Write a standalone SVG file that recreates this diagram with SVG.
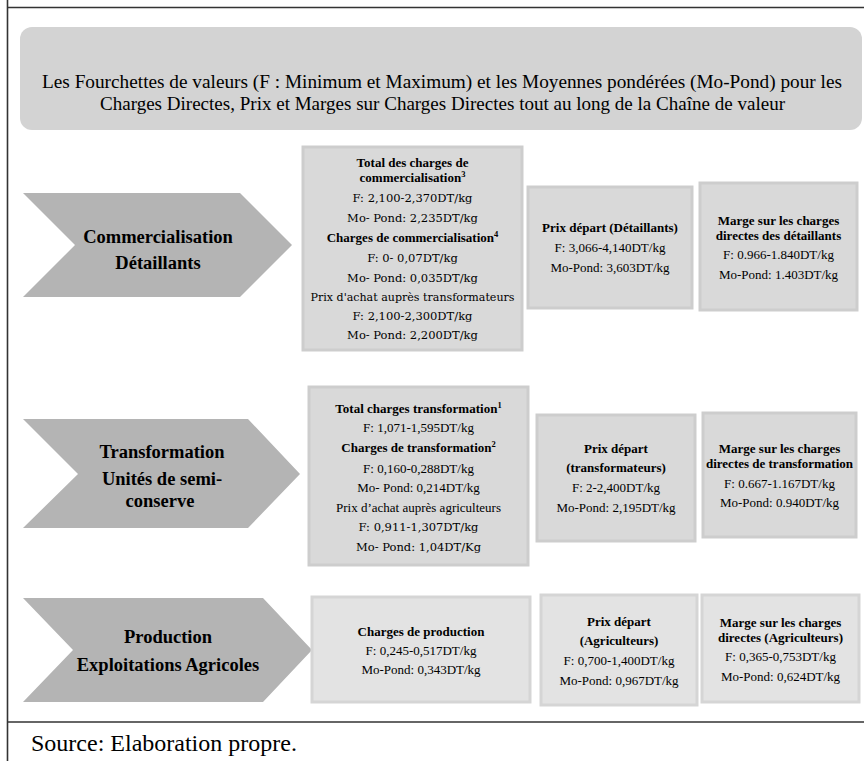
<svg xmlns="http://www.w3.org/2000/svg" width="864" height="761" viewBox="0 0 864 761">
<style>
.frame{stroke:#333;stroke-width:1.6;fill:none}
.hdr{fill:#d3d3d3}
.chev{fill:#b4b4b4}
.box{fill:#d9d9d9;stroke:#cdcdcd;stroke-width:3}
.box3{fill:#e3e3e3;stroke:#d5d5d5;stroke-width:3}
text{font-family:"Liberation Serif","Times New Roman",serif;fill:#000;text-anchor:middle;font-size:13px}
.b{font-weight:bold}
.c{font-family:"DejaVu Serif",serif;font-size:11.5px}
.ch{font-size:18.5px;font-weight:bold}
.h{font-size:19px}
.src{font-size:24px;text-anchor:start}
.sup{font-size:8.5px}
</style>
<rect width="864" height="761" fill="#fff"/>
<g id="frame">
<line class="frame" x1="7" y1="7.5" x2="864" y2="7.5"/>
<line class="frame" x1="7.5" y1="0" x2="7.5" y2="761"/>
<line class="frame" x1="7" y1="722" x2="864" y2="722"/>
</g>
<g id="header">
<rect class="hdr" x="20" y="27" width="842" height="103" rx="12"/>
<text class="h" x="442" y="88" textLength="800" lengthAdjust="spacingAndGlyphs">Les Fourchettes de valeurs (F : Minimum et Maximum) et les Moyennes pondérées (Mo-Pond) pour les</text>
<text class="h" x="442.5" y="110" textLength="685" lengthAdjust="spacingAndGlyphs">Charges Directes, Prix et Marges sur Charges Directes tout au long de la Chaîne de valeur</text>
</g>
<g id="stage-commercialisation">
<polygon class="chev" points="23,193 240,193 292,245 240,297 23,297 75,245"/>
<text class="ch" x="158" y="243">Commercialisation</text>
<text class="ch" x="158" y="269">Détaillants</text>
</g>
<g id="box-total-commercialisation">
<rect class="box" x="303" y="147" width="219" height="203"/>
<text class="b" x="412.5" y="167">Total des charges de</text>
<text class="b" x="412.5" y="182">commercialisation<tspan class="sup" baseline-shift="super">3</tspan></text>
<text class="c" x="412.5" y="202">F: 2,100-2,370DT/kg</text>
<text class="c" x="412.5" y="222">Mo- Pond: 2,235DT/kg</text>
<text class="b" x="412.5" y="242">Charges de commercialisation<tspan class="sup" baseline-shift="super">4</tspan></text>
<text class="c" x="412.5" y="262">F: 0- 0,07DT/kg</text>
<text class="c" x="412.5" y="282">Mo- Pond: 0,035DT/kg</text>
<text class="c" x="412.5" y="301" textLength="204" lengthAdjust="spacingAndGlyphs">Prix d'achat auprès transformateurs</text>
<text class="c" x="412.5" y="320">F: 2,100-2,300DT/kg</text>
<text class="c" x="412.5" y="339">Mo- Pond: 2,200DT/kg</text>
</g>
<g id="box-prix-detaillants">
<rect class="box" x="528" y="187" width="164" height="121"/>
<text class="b" x="610" y="232">Prix départ (Détaillants)</text>
<text x="610" y="252">F: 3,066-4,140DT/kg</text>
<text x="610" y="272">Mo-Pond: 3,603DT/kg</text>
</g>
<g id="box-marge-detaillants">
<rect class="box" x="700" y="183" width="157" height="127"/>
<text class="b" x="778.5" y="225">Marge sur les charges</text>
<text class="b" x="778.5" y="240">directes des détaillants</text>
<text x="778.5" y="259">F: 0.966-1.840DT/kg</text>
<text x="778.5" y="279">Mo-Pond: 1.403DT/kg</text>
</g>
<g id="stage-transformation">
<polygon class="chev" points="23,419 248,419 300,474 248,528 23,528 78,474"/>
<text class="ch" x="162" y="458">Transformation</text>
<text class="ch" x="162" y="485">Unités de semi-</text>
<text class="ch" x="160" y="507">conserve</text>
</g>
<g id="box-total-transformation">
<rect class="box" x="309" y="387" width="219" height="178"/>
<text class="b" x="418.5" y="413">Total charges transformation<tspan class="sup" baseline-shift="super">1</tspan></text>
<text x="418.5" y="432">F: 1,071-1,595DT/kg</text>
<text class="b" x="418.5" y="452">Charges de transformation<tspan class="sup" baseline-shift="super">2</tspan></text>
<text x="418.5" y="473">F: 0,160-0,288DT/kg</text>
<text x="418.5" y="492">Mo- Pond: 0,214DT/kg</text>
<text x="418.5" y="512">Prix d’achat auprès agriculteurs</text>
<text class="c" x="418.5" y="531">F: 0,911-1,307DT/kg</text>
<text class="c" x="418.5" y="551">Mo- Pond: 1,04DT/Kg</text>
</g>
<g id="box-prix-transformateurs">
<rect class="box" x="537" y="415" width="158" height="126"/>
<text class="b" x="616" y="453">Prix départ</text>
<text class="b" x="616" y="472">(transformateurs)</text>
<text x="616" y="492">F: 2-2,400DT/kg</text>
<text x="616" y="512">Mo-Pond: 2,195DT/kg</text>
</g>
<g id="box-marge-transformation">
<rect class="box" x="703" y="413" width="153" height="124"/>
<text class="b" x="779.5" y="453">Marge sur les charges</text>
<text class="b" x="779.5" y="468">directes de transformation</text>
<text x="779.5" y="488">F: 0.667-1.167DT/kg</text>
<text x="779.5" y="507">Mo-Pond: 0.940DT/kg</text>
</g>
<g id="stage-production">
<polygon class="chev" points="23,598 263,598 312,650 263,702 23,702 73,650"/>
<text class="ch" x="168" y="643">Production</text>
<text class="ch" x="168" y="671">Exploitations Agricoles</text>
</g>
<g id="box-charges-production">
<rect class="box3" x="312" y="597" width="218" height="105"/>
<text class="b" x="421" y="636">Charges de production</text>
<text x="421" y="655">F: 0,245-0,517DT/kg</text>
<text x="421" y="674">Mo-Pond: 0,343DT/kg</text>
</g>
<g id="box-prix-agriculteurs">
<rect class="box3" x="541" y="595" width="156" height="110"/>
<text class="b" x="619" y="626">Prix départ</text>
<text class="b" x="619" y="645">(Agriculteurs)</text>
<text x="619" y="665">F: 0,700-1,400DT/kg</text>
<text x="619" y="685">Mo-Pond: 0,967DT/kg</text>
</g>
<g id="box-marge-agriculteurs">
<rect class="box3" x="702" y="595" width="157" height="107"/>
<text class="b" x="780.5" y="627">Marge sur les charges</text>
<text class="b" x="780.5" y="642">directes (Agriculteurs)</text>
<text x="780.5" y="661">F: 0,365-0,753DT/kg</text>
<text x="780.5" y="681">Mo-Pond: 0,624DT/kg</text>
</g>
<g id="connectors"></g>
<text class="src" x="31" y="751">Source: Elaboration propre.</text>
</svg>
